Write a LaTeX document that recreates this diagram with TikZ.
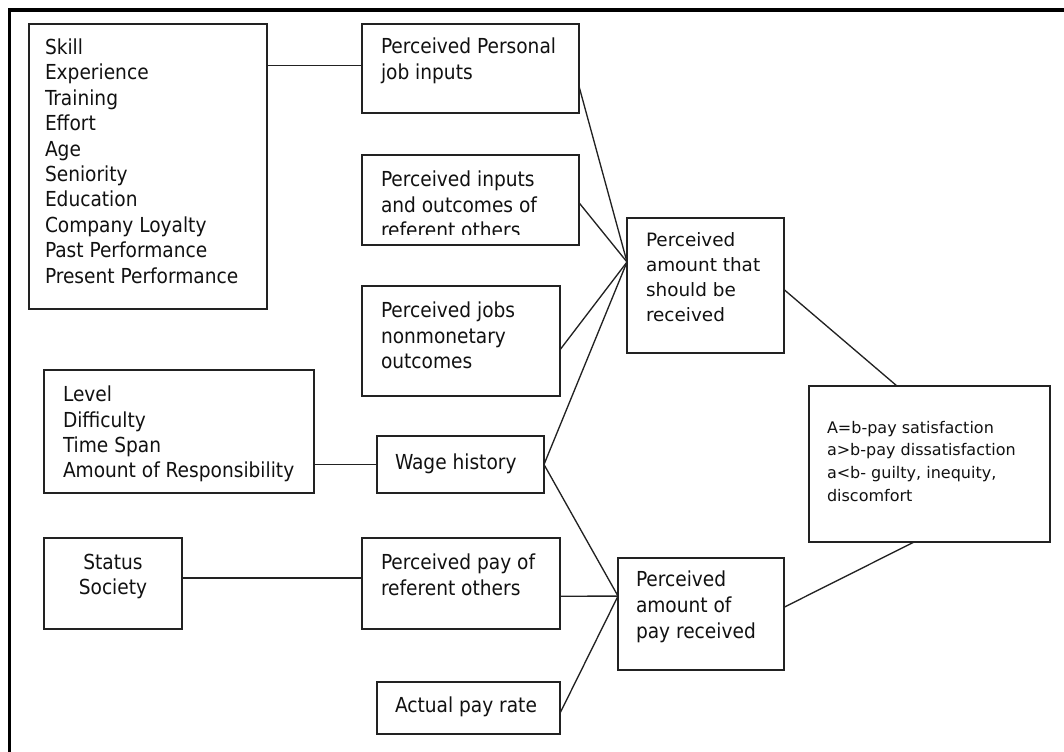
\documentclass[tikz,border=0pt]{standalone}
\usepackage{fontspec}
\setmainfont{DejaVu Sans}
\newfontfamily\tah{DejaVu Sans Condensed}
\newfontfamily\verd{DejaVu Sans}
\usetikzlibrary{fit,calc}
\definecolor{linec}{HTML}{222222}
\definecolor{txtc}{HTML}{111111}
\tikzset{
  box/.style={draw=linec, line width=1.1pt, inner sep=0pt, outer sep=0pt},
  conn/.style={draw=linec, line width=1pt},
  tx/.style={anchor=north west, inner sep=0pt, outer sep=0pt, align=left, yshift=12pt,
             text=txtc, execute at begin node={\rule{0pt}{12pt}}},
  tah/.style={font=\tah\fontsize{15.5}{19}\selectfont},
  verdA/.style={font=\verd\fontsize{13.8}{18.75}\selectfont},
  verdB/.style={font=\verd\fontsize{12}{17.1}\selectfont},
}
\begin{document}
\begin{tikzpicture}[x=0.75pt,y=-0.75pt]
\useasboundingbox (0,0) rectangle (1064,752);
% frame
\draw[line width=2.3pt, black] (9.5,752) -- (9.5,10) -- (1064,10);

% boxes
\node[box, fit={(29,24) (267,309)}] (skill) {};
\node[box, fit={(362,24) (579,113)}] (pers) {};
\node[box, fit={(362,155) (579,245)}] (inputs) {};
\node[box, fit={(362,286) (560,396)}] (jobs) {};
\node[box, fit={(627,218) (784,353)}] (should) {};
\node[box, fit={(809,386) (1050,542)}] (result) {};
\node[box, fit={(44,370) (314,493)}] (level) {};
\node[box, fit={(377,436) (544,493)}] (wage) {};
\node[box, fit={(44,538) (182,629)}] (status) {};
\node[box, fit={(362,538) (560,629)}] (refpay) {};
\node[box, fit={(618,558) (784,670)}] (paid) {};
\node[box, fit={(377,682) (560,734)}] (actual) {};

% texts
\node[tx, tah, font=\tah\fontsize{15.5}{19.05}\selectfont] (tskill) at (45,54.8) {Skill\\Experience\\Training\\Effort\\Age\\Seniority\\Education\\Company Loyalty\\Past Performance\\Present Performance};
\node[tx, tah] (tpers) at (381,54) {Perceived Personal\\job inputs};
\begin{scope}
\clip (362,155) rectangle (579,235);
\node[tx, tah] (tinputs) at (381,187) {Perceived inputs\\and outcomes of\\referent others};
\end{scope}
\node[tx, tah] (tjobs) at (381,318) {Perceived jobs\\nonmonetary\\outcomes};
\node[tx, verdA] (tshould) at (646,249) {Perceived\\amount that\\should be\\received};
\node[tx, verdB] (tresult) at (827,437) {A=b-pay satisfaction\\a>b-pay dissatisfaction\\a<b- guilty, inequity,\\discomfort};
\node[tx, tah] (tlevel) at (63,402) {Level\\Difficulty\\Time Span\\Amount of Responsibility};
\node[tx, tah] (twage) at (395,469) {Wage history};
\node[tx, tah, anchor=north, align=center] (tstatus) at (113,570) {Status\\Society};
\node[tx, tah] (trefpay) at (381,570) {Perceived pay of\\referent others};
\node[tx, tah, font=\tah\fontsize{15.5}{19.5}\selectfont] (tpaid) at (636,587) {Perceived\\amount of\\pay received};
\node[tx, tah] (tactual) at (395,712) {Actual pay rate};

% connection points
\coordinate (cS) at ($(should.north west)!0.326!(should.south west)$);
\coordinate (cP) at ($(paid.north west)!0.34!(paid.south west)$);
\coordinate (pPers) at ($(pers.north east)!0.70!(pers.south east)$);
\coordinate (pPersL) at ($(pers.north west)!0.47!(pers.south west)$);
\coordinate (pInputs) at ($(inputs.north east)!0.53!(inputs.south east)$);
\coordinate (pJobs) at ($(jobs.north east)!0.58!(jobs.south east)$);
\coordinate (pStatus) at ($(status.north east)!0.44!(status.south east)$);
\coordinate (pRef) at ($(refpay.north east)!0.64!(refpay.south east)$);
\coordinate (pAct) at ($(actual.north east)!0.6!(actual.south east)$);
\coordinate (pShould) at ($(should.north east)!0.53!(should.south east)$);
\coordinate (pPaid) at ($(paid.north east)!0.44!(paid.south east)$);
\coordinate (rTop) at ($(result.north west)!0.365!(result.north east)$);
\coordinate (rBot) at ($(result.south west)!0.436!(result.south east)$);

% connectors
\draw[conn] (skill.east |- pPersL) -- (pPersL);
\draw[conn] (pPers) -- (cS);
\draw[conn] (pInputs) -- (cS);
\draw[conn] (pJobs) -- (cS);
\draw[conn] (wage.east) -- (cS);
\draw[conn] (level.east |- wage.west) -- (wage.west);
\draw[conn] (wage.east) -- (cP);
\draw[conn] (pStatus) -- (refpay.west |- pStatus);
\draw[conn] (pRef) -- (cP);
\draw[conn] (pAct) -- (cP);
\draw[conn] (pShould) -- (rTop);
\draw[conn] (pPaid) -- (rBot);
\end{tikzpicture}
\end{document}
